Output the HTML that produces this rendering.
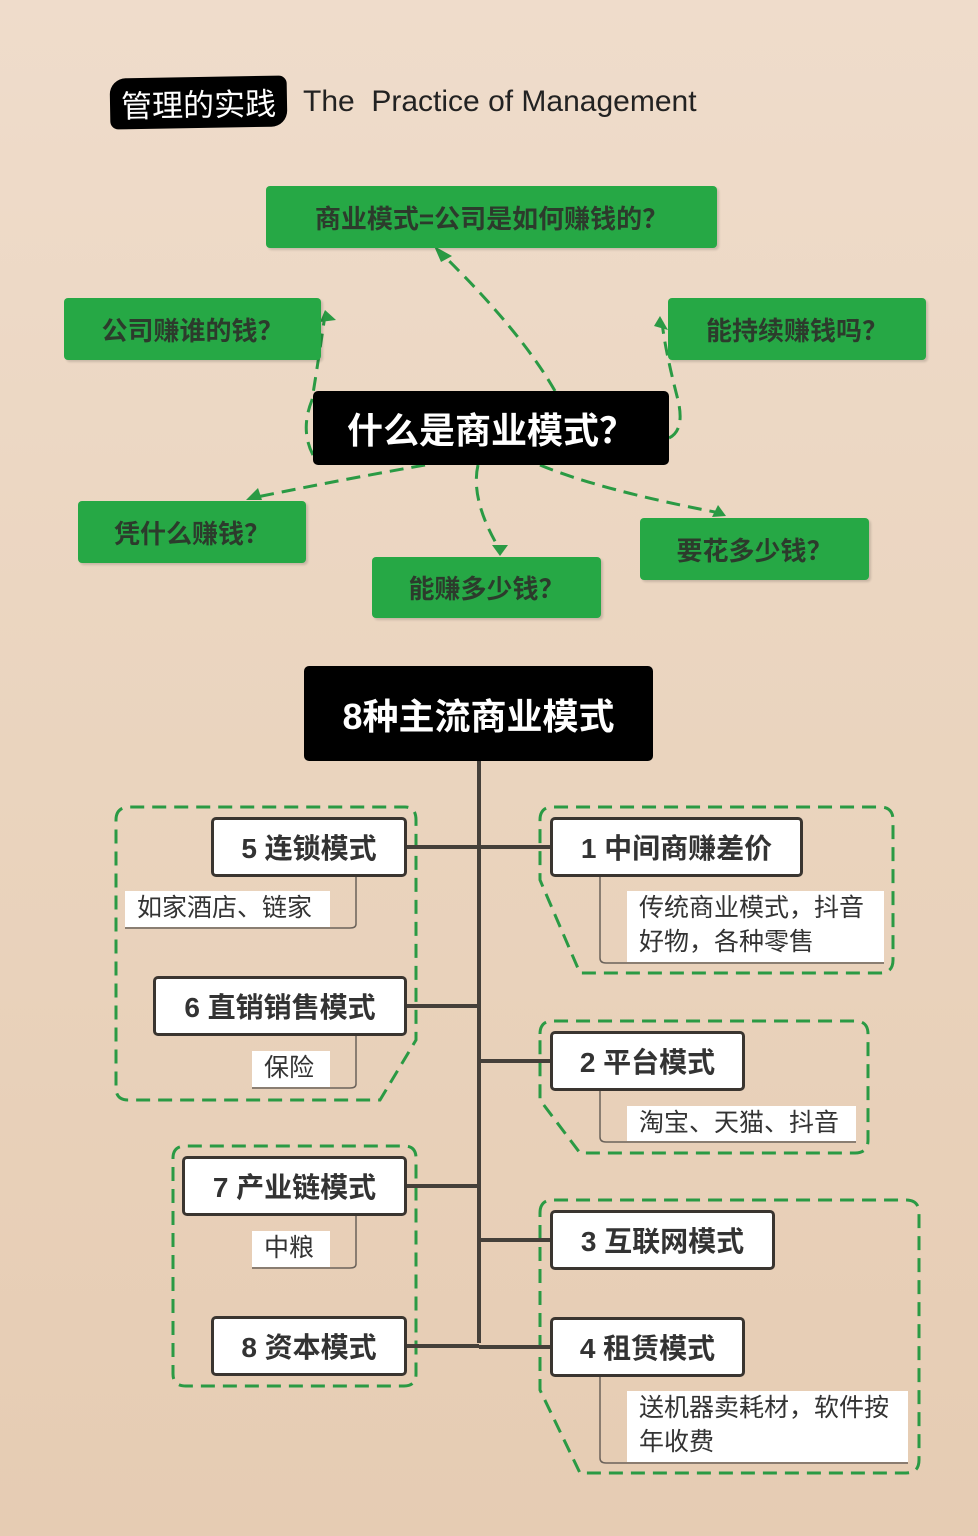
<!DOCTYPE html>
<html><head><meta charset="utf-8"><style>
*{margin:0;padding:0;box-sizing:border-box}
body{width:978px;height:1536px;position:relative;overflow:hidden;background:linear-gradient(180deg,#efdccb 0%,#ead4be 50%,#e6ccb3 100%);font-family:"Liberation Sans","Noto Sans CJK SC",sans-serif}
.a{position:absolute;display:flex;align-items:center;justify-content:center;white-space:nowrap}
.g{background:#26a845;color:#2c3b2c;font-weight:bold;font-size:26px;border-radius:4px;box-shadow:2px 2px 2px rgba(0,0,0,.15)}
.k{background:#000;color:#fff;font-weight:bold;font-size:36px;border-radius:5px}
.w{background:#fff;border:3px solid #3a3530;border-radius:5px;color:#333;font-weight:bold;font-size:28px}
.n{position:absolute;background:#fff;color:#333;font-size:25px;line-height:34px;padding-left:12px}
svg{position:absolute;left:0;top:0}
</style></head><body>
<div class="a" style="left:110px;top:77px;width:177px;height:51px;background:#000;color:#fff;font-size:31px;border-radius:16px 8px 16px 8px;transform:rotate(-1deg)">管理的实践</div>
<div class="a" style="left:303px;top:82px;height:40px;font-size:30px;color:#222;justify-content:flex-start">The&nbsp; Practice of Management</div>

<svg width="978" height="1536">
<g fill="none" stroke="#2a9a44" stroke-width="3" stroke-dasharray="14,8">
<path d="M555 391 Q520 330 440 252"/>
<path d="M313 455 Q300 430 312 400 Q320 350 325 315"/>
<path d="M669 438 Q685 430 678 400 Q665 350 662 322"/>
<path d="M425 465 Q340 480 252 498"/>
<path d="M478 465 Q470 500 500 550"/>
<path d="M540 465 Q600 490 720 513"/>
<path d="M116 820 Q116 807 130 807 L405 807 Q416 807 416 820 L416 1040 L380 1100 L128 1100 Q116 1100 116 1088 Z"/>
<path d="M173 1158 Q173 1146 186 1146 L404 1146 Q416 1146 416 1158 L416 1374 Q416 1386 404 1386 L186 1386 Q173 1386 173 1374 Z"/>
<path d="M540 820 Q540 807 553 807 L880 807 Q893 807 893 820 L893 960 Q893 973 880 973 L580 973 L540 880 Z"/>
<path d="M540 1034 Q540 1021 553 1021 L855 1021 Q868 1021 868 1034 L868 1140 Q868 1153 855 1153 L580 1153 L540 1100 Z"/>
<path d="M540 1213 Q540 1200 553 1200 L906 1200 Q919 1200 919 1213 L919 1460 Q919 1473 906 1473 L580 1473 L540 1390 Z"/>
</g>
<g fill="#2a9a44">
<path d="M434 246 L452 256 L441 262 Z"/>
<path d="M325 310 L336 320 L320 322 Z"/>
<path d="M660 316 L668 330 L654 326 Z"/>
<path d="M246 500 L258 488 L262 500 Z"/>
<path d="M500 556 L492 545 L508 545 Z"/>
<path d="M726 516 L712 517 L718 505 Z"/>
</g>
<g fill="none" stroke="#45403a" stroke-width="4">
<path d="M479 761 V1343"/>
<path d="M407 847 H479 M479 847 H550 M407 1006 H479 M407 1186 H479 M407 1346 H479 M479 1061 H550 M479 1240 H550 M479 1347 H550"/>
</g>
<g fill="none" stroke="#6b625a" stroke-width="1.5">
<path d="M356 877 V924 Q356 928 350 928 H125"/>
<path d="M356 1036 V1084 Q356 1088 350 1088 H252"/>
<path d="M356 1216 V1264 Q356 1268 350 1268 H252"/>
<path d="M600 877 V958 Q600 963 606 963 H884"/>
<path d="M600 1091 V1137 Q600 1142 606 1142 H856"/>
<path d="M600 1377 V1458 Q600 1463 606 1463 H908"/>
</g>
</svg>

<div class="a g" style="left:266px;top:186px;width:451px;height:62px">商业模式=公司是如何赚钱的？</div>
<div class="a g" style="left:64px;top:298px;width:257px;height:62px">公司赚谁的钱？</div>
<div class="a g" style="left:668px;top:298px;width:258px;height:62px">能持续赚钱吗？</div>
<div class="a k" style="left:313px;top:391px;width:356px;height:74px">什么是商业模式？</div>
<div class="a g" style="left:78px;top:501px;width:228px;height:62px">凭什么赚钱？</div>
<div class="a g" style="left:372px;top:557px;width:229px;height:61px">能赚多少钱？</div>
<div class="a g" style="left:640px;top:518px;width:229px;height:62px">要花多少钱？</div>
<div class="a k" style="left:304px;top:666px;width:349px;height:95px">8种主流商业模式</div>

<div class="a w" style="left:211px;top:817px;width:196px;height:60px">5 连锁模式</div>
<div class="n" style="left:125px;top:891px;width:205px;height:36px">如家酒店、链家</div>
<div class="a w" style="left:153px;top:976px;width:254px;height:60px">6 直销销售模式</div>
<div class="n" style="left:252px;top:1051px;width:78px;height:36px">保险</div>
<div class="a w" style="left:182px;top:1156px;width:225px;height:60px">7 产业链模式</div>
<div class="n" style="left:252px;top:1231px;width:78px;height:36px">中粮</div>
<div class="a w" style="left:211px;top:1316px;width:196px;height:60px">8 资本模式</div>

<div class="a w" style="left:550px;top:817px;width:253px;height:60px">1 中间商赚差价</div>
<div class="n" style="left:627px;top:891px;width:257px;height:71px">传统商业模式，抖音<br>好物，各种零售</div>
<div class="a w" style="left:550px;top:1031px;width:195px;height:60px">2 平台模式</div>
<div class="n" style="left:627px;top:1106px;width:229px;height:35px">淘宝、天猫、抖音</div>
<div class="a w" style="left:550px;top:1210px;width:225px;height:60px">3 互联网模式</div>
<div class="a w" style="left:550px;top:1317px;width:195px;height:60px">4 租赁模式</div>
<div class="n" style="left:627px;top:1391px;width:281px;height:71px">送机器卖耗材，软件按<br>年收费</div>
</body></html>
